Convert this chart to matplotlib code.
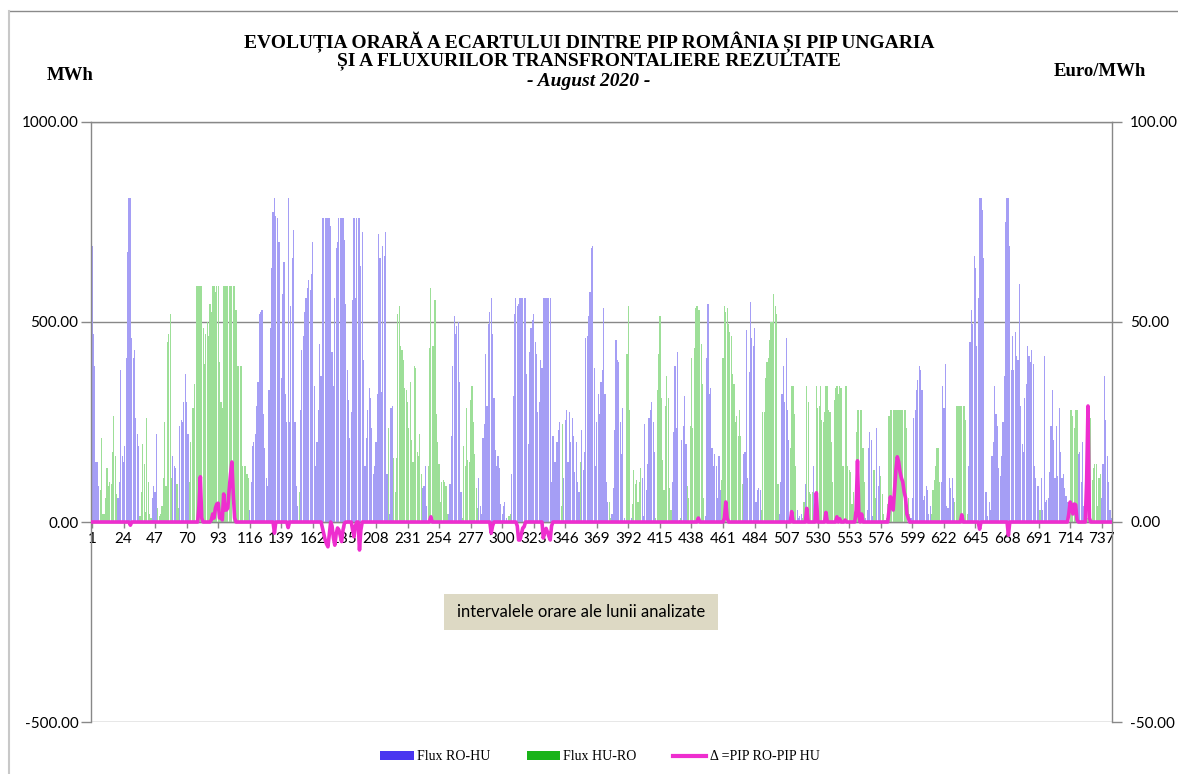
import matplotlib; matplotlib.use('Agg')
import matplotlib.pyplot as plt
import numpy as np
from matplotlib.patches import Patch, Rectangle
from matplotlib.lines import Line2D

#############################################################################
# hourly cross-border flow, MWh (+ = RO->HU, - = HU->RO), one row per day
flux_by_day = [
    [690, 470, 390, 150, 150, 90, -80, -210, -20, -20, -60, -135, -90, -100, -95, -175, -265, -165, -70, 60, 100, 380, 165, 150],
    [190, 410, 675, 810, 810, 460, 410, 430, 260, 220, 190, -15, -75, -195, -145, -25, -260, -100, -20, -10, 60, 90, 75, 220],
    [-35, -15, -20, -40, -110, -250, -90, -450, -470, -520, -110, 165, 140, 135, -95, -35, 240, 255, 250, 300, 370, 300, 220, -100],
    [-200, -285, -285, -345, -590, -590, -590, -590, -590, -485, -395, -470, -500, -465, -545, -525, -590, -590, -575, -590, -590, -400, -300, -285],
    [-590, -590, -590, -590, -590, -590, -590, -590, -590, -530, -390, -390, -390, -390, -140, -140, -140, -120, -110, 30, 100, 190, 200, 220],
    [290, 350, 520, 525, 530, 270, 185, 110, 90, 330, 485, 635, 775, 810, 765, 760, 700, 700, 360, 570, 650, 320, 250, 810],
    [250, 540, 660, 730, 250, 90, 40, -75, 280, 430, 465, 525, 560, 585, 605, 580, 620, 700, 340, 140, 200, 280, 445, 365],
    [760, 760, 760, 760, 760, 760, 740, 425, 340, 560, 685, 700, 760, 760, 760, 760, 705, 545, 380, 305, 210, 275, 555, 760],
    [560, 760, 760, 760, 640, 725, 405, 140, 210, 280, 335, 310, 235, 120, 140, 200, 320, 720, 660, 325, 690, 665, 725, 120],
    [-235, 20, 285, 290, -160, -75, -160, -520, -540, -440, -430, -405, -335, -330, -300, -235, -350, -205, -150, -390, -385, -175, -165, -220],
    [-120, 85, 90, 140, 40, -140, -435, -585, -440, -440, -555, -270, -200, -145, -50, -100, -105, -100, -90, -20, 20, 95, 215, 390],
    [515, 470, 490, 500, 350, 75, -10, -190, -140, -285, -155, -150, -305, -340, -250, -170, -85, -35, 110, 40, 20, 210, 245, 420],
    [290, 495, 525, 560, 470, 310, 180, 140, 165, 135, 45, 20, 40, 50, 10, 0, -15, -20, 120, 315, 520, 560, 540, 545],
    [560, 560, 560, 560, 560, 370, 195, 425, 485, 505, 520, 450, 420, 275, 300, 405, 385, 560, 560, 560, 560, 560, 560, 100],
    [215, 150, 150, 200, 230, 250, -40, -245, 110, 255, 280, 150, 275, 200, 260, 215, 125, 200, 100, 75, -150, 230, 130, 175],
    [460, 465, 515, 575, 685, 690, 385, 140, 250, 320, 270, 350, 380, 535, 320, 100, 50, -50, -10, 20, 85, 230, 455, 405],
    [400, 250, 170, 285, 10, 0, -420, -540, -280, 10, -45, -130, -95, -105, -50, -100, -135, 110, 15, 245, 80, 145, 260, 280],
    [300, 250, 175, -10, -330, -420, -515, -310, -155, -80, -290, -365, -310, -85, -30, 100, 225, 390, 235, 425, 5, -10, 205, 240],
    [315, 195, -90, -60, -240, -410, -235, -435, -535, -540, -530, -530, -445, -345, -60, 15, 410, 545, 320, 335, 185, 140, 170, 140],
    [60, 165, 80, -105, -410, -540, -525, -535, -495, -475, -465, -370, -345, -250, -265, -215, -280, -215, -95, 170, 175, 480, 110, 375],
    [550, 460, 440, 485, 50, 80, 85, 80, -30, -275, -275, -360, -400, -410, -455, -500, -500, -570, -540, -520, -95, 20, 100, 320],
    [390, 300, 460, 280, 205, -185, -340, -340, -270, -140, 30, 10, 15, 20, -10, -50, 95, -340, -300, -75, -70, -75, 140, -20],
    [-340, -285, -290, -340, -255, -250, -275, -340, -340, -280, -275, -200, -100, -305, -335, -340, -320, -340, -335, -140, -140, -340, -340, -140],
    [-130, -125, -45, -75, -10, -225, -280, -280, -280, -280, -185, -100, 10, 30, 185, 225, 205, 15, -130, -60, 235, 90, 140, -115],
    [-70, -20, -5, -10, -45, -265, -280, -280, -280, -280, -280, -280, -280, -280, -280, -280, -280, -280, -235, -60, -20, 10, 60, 260],
    [280, 330, 355, 390, 380, 330, 55, 65, 90, 80, 20, 40, -20, -80, -105, -140, -185, -185, -100, 100, 340, 285, 395, 40],
    [35, 110, 85, 110, 60, -50, -290, -290, -290, -290, -290, -290, -290, -255, -20, 140, 450, 530, 495, 665, 635, 440, 560, 810],
    [810, 780, 660, 75, 75, 15, 50, 30, 165, 200, 340, 270, 240, 135, 115, 165, 250, 365, 750, 810, 810, 690, 380, 465],
    [380, 475, 415, 405, 595, 290, 195, 175, 310, 345, 440, 415, 400, 430, 395, 140, 110, 90, 90, -30, 110, 30, 415, 50],
    [55, 60, 125, 240, 330, 205, 110, 240, 115, 285, 175, 110, 120, 85, 65, 50, -25, -280, -280, -265, -235, -280, -280, 170],
    [175, 100, 200, 40, -20, -10, -10, -260, -260, -105, -135, -145, -145, -40, -110, -120, 60, 145, 365, 255, 165, 100, 30, 10],
]

# price spread PIP RO - PIP HU, Euro/MWh (hours not listed are 0)
delta_hours = [29, 79, 80, 81, 88, 89, 90, 91, 92, 93, 94, 95, 96, 97, 98, 99, 100, 101, 102, 103, 104, 105,
               134, 144, 169, 170, 171, 172, 173, 174, 176, 177, 178, 179, 180, 181, 182, 183, 184, 185,
               191, 192, 193, 196, 197, 248, 292, 293, 311, 312, 313, 314, 315, 316,
               330, 331, 332, 333, 334, 335, 336, 443, 462, 463, 464, 511, 522, 529, 536, 544, 546, 550,
               558, 559, 560, 562, 582, 583, 584, 585, 586, 587, 588, 589, 590, 591, 592, 593, 594, 595, 596,
               635, 648, 669, 713, 714, 715, 716, 717, 718, 719, 726, 727, 728]
delta_values = [-0.8, 4, 11.3, 1, 0.5, 2, 1, 3.5, 4.5, 4.7, 1, 1.5, 0.5, 7, 3, 3, 3.5, 8, 12, 15, 7, 1,
                -2.8, -1.4, -1.5, -3, -4.5, -5.5, -6.2, -3, -1, -4, -5.8, -3, -1.5, -2, -3.5, -4.9, -2, -0.3,
                -2, -3.7, -1, -7, -2, 1.3, -2.8, -1, -1, -4.5, -4.5, -3, -1.5, -1.2,
                -4, -2.5, -1.6, -2.5, -3.5, -4.5, -1, 1, 1, 5, 1, 2.6, 3.4, 7.3, 2.4, 1.3, 0.8, 0.5,
                3, 15.3, 1.5, 2, 3, 6.3, 4, 3, 8, 13, 16.3, 15, 12.5, 11, 10, 7.5, 6, 2, 1,
                1.8, -1.8, -3.3, 2, 5, 4, 2, 4.5, 4.3, 0.5, 10, 29, 1]

tick_hours = list(range(1, 745, 23))
#############################################################################

flux = np.array(flux_by_day, dtype=float).ravel()
hours = np.arange(1, len(flux) + 1)
ro_hu = np.clip(flux, 0, None)
hu_ro = np.clip(-flux, 0, None)
delta = np.zeros(len(flux))
delta[np.array(delta_hours) - 1] = delta_values

W, H = 1178, 774
fig = plt.figure(figsize=(W / 100, H / 100), dpi=100)
ax = fig.add_axes([91 / W, 1 - 722 / H, (1112 - 91) / W, (722 - 122) / H])

grey = '#888888'
ax.bar(hours, ro_hu, width=0.85, color='#a59ef5', linewidth=0)
ax.bar(hours, hu_ro, width=0.85, color='#9ddf98', linewidth=0)

ax.set_xlim(0.3, len(flux) + 0.5)
ax.set_ylim(-500, 1000)
ax.set_yticks([-500, 0, 500, 1000])
ax.set_yticklabels(['%.2f' % v for v in [-500, 0, 500, 1000]])
ax.yaxis.grid(True, color=grey, linewidth=1.0)
ax.set_axisbelow(True)
ax.spines['bottom'].set_position(('data', 0))
for s in ax.spines.values():
    s.set_color(grey)
    s.set_linewidth(1.0)
ax.set_xticks(tick_hours)
ax.set_xticklabels([str(t) for t in tick_hours])
ax.tick_params(axis='x', direction='out', length=4, width=1, color=grey, pad=3,
               labelsize=11, labelfontfamily='Lato')
ax.tick_params(axis='y', direction='out', length=7, width=1, color=grey, pad=2,
               labelsize=11, labelfontfamily='Lato')

ax2 = ax.twinx()
ax2.plot(hours, delta, color='#ee2ecf', linewidth=2.6, solid_joinstyle='round')
ax2.set_ylim(-50, 100)
ax2.set_xlim(0.3, len(flux) + 0.5)
ax2.set_yticks([-50, 0, 50, 100])
ax2.set_yticklabels(['%.2f' % v for v in [-50, 0, 50, 100]])
for s in ax2.spines.values():
    s.set_visible(False)
ax2.tick_params(axis='y', direction='out', length=7, width=1, color=grey, pad=6,
                labelsize=11, labelfontfamily='Lato')

# titles
serif = 'Liberation Serif'
fig.text(589 / W, 1 - 42 / H, 'EVOLUȚIA ORARĂ A ECARTULUI DINTRE PIP ROMÂNIA ȘI PIP UNGARIA',
         ha='center', va='center', fontsize=14, fontweight='bold', family=serif)
fig.text(589 / W, 1 - 61 / H, 'ȘI A FLUXURILOR TRANSFRONTALIERE REZULTATE',
         ha='center', va='center', fontsize=14, fontweight='bold', family=serif)
fig.text(589 / W, 1 - 81 / H, '- August 2020 -',
         ha='center', va='center', fontsize=14, fontweight='bold', style='italic', family=serif)
fig.text(47 / W, 1 - 76 / H, 'MWh', ha='left', va='center', fontsize=13.5, fontweight='bold', family=serif)
fig.text(1146 / W, 1 - 71 / H, 'Euro/MWh', ha='right', va='center', fontsize=13.5, fontweight='bold', family=serif)

# label box
fig.patches.append(Rectangle((444 / W, 1 - 630 / H), 274 / W, 36 / H, transform=fig.transFigure,
                             facecolor='#ddd9c4', edgecolor='none'))
fig.text(581 / W, 1 - 612 / H, 'intervalele orare ale lunii analizate', ha='center', va='center',
         fontsize=12, family='Lato')

# outer frame (top and left edges)
fig.add_artist(Line2D([9 / W, 1], [1 - 11 / H, 1 - 11 / H], transform=fig.transFigure, color='#8a8a8a', lw=1))
fig.add_artist(Line2D([9 / W, 9 / W], [0, 1 - 11 / H], transform=fig.transFigure, color='#c8c8c8', lw=1.5))

handles = [Patch(facecolor='#4a36f0', edgecolor='none'),
           Patch(facecolor='#19b319', edgecolor='none'),
           Line2D([], [], color='#ee2ecf', linewidth=3)]
fig.legend(handles, ['Flux RO-HU', 'Flux HU-RO', 'Δ =PIP RO-PIP HU'], loc='center',
           bbox_to_anchor=(600 / W, 1 - 757 / H), ncol=3, frameon=False,
           prop=dict(family=serif, size=10), handlelength=2.4, handleheight=0.55,
           columnspacing=2.6, handletextpad=0.25)

fig.savefig('out.png', dpi=100)
